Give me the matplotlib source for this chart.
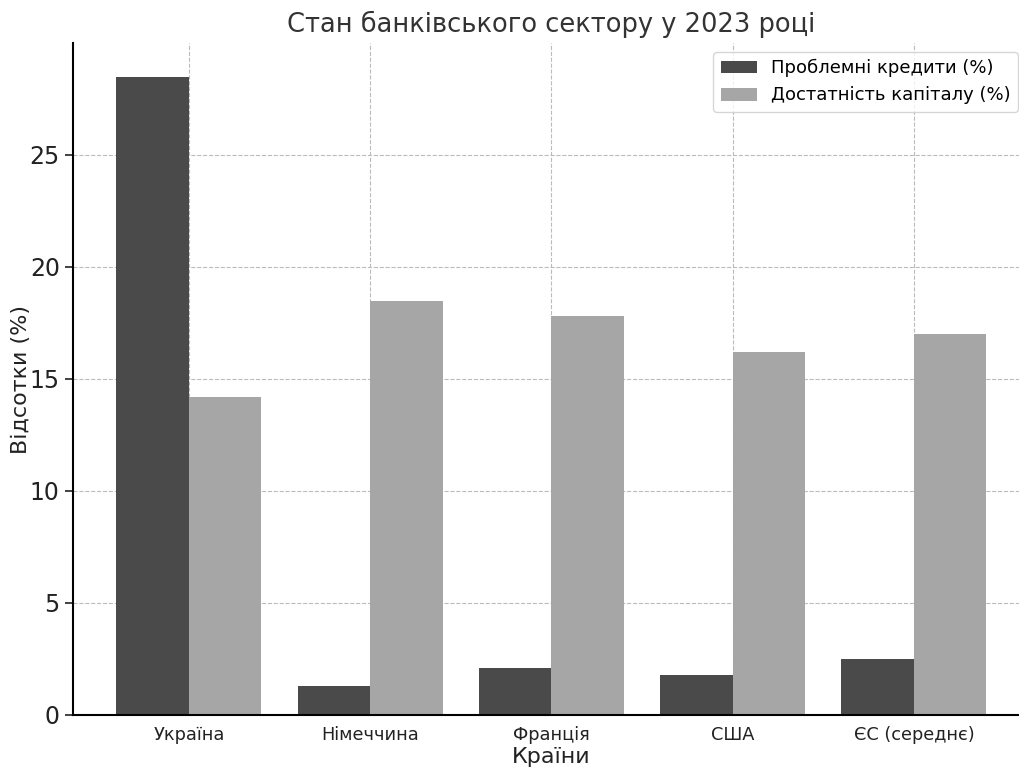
import matplotlib.pyplot as plt
import numpy as np

countries = ['Україна', 'Німеччина', 'Франція', 'США', 'ЄС (середнє)']
npl = [28.5, 1.3, 2.1, 1.8, 2.5]
capital = [14.2, 18.5, 17.8, 16.2, 17.0]

x = np.arange(len(countries))
w = 0.4

fig = plt.figure(figsize=(10.2, 7.67), dpi=100)
ax = fig.add_axes([73/1020, 1 - 715/767, 957/1020, 672/767])

ax.bar(x - w/2, npl, w, color='#4a4a4a', label='Проблемні кредити (%)')
ax.bar(x + w/2, capital, w, color='#a6a6a6', label='Достатність капіталу (%)')

ax.set_ylim(0, 30)
ax.set_xticks(x)
ax.set_xticklabels(countries, fontsize=12.8, color='#222222')
ax.set_yticks([0, 5, 10, 15, 20, 25])
ax.tick_params(axis='y', labelsize=17, length=6, width=1.2, colors='#222222')
ax.tick_params(axis='x', direction='in', length=3, width=1.2, pad=8)

ax.set_title('Стан банківського сектору у 2023 році', fontsize=18.5, color='#333333', pad=8)
ax.set_xlabel('Країни', fontsize=16, color='#222222', labelpad=2)
ax.set_ylabel('Відсотки (%)', fontsize=16, color='#222222', labelpad=-1)

ax.spines['top'].set_visible(False)
ax.spines['right'].set_visible(False)
ax.spines['left'].set_linewidth(1.5)
ax.spines['bottom'].set_linewidth(1.5)
ax.set_axisbelow(True)
ax.grid(True, linestyle='--', color='#bbbbbb', linewidth=0.8)

ax.legend(loc='upper right', bbox_to_anchor=(1018/1020, 1 - 52/767),
          bbox_transform=fig.transFigure, fontsize=13, frameon=True,
          edgecolor='#cccccc', fancybox=True, borderaxespad=0)

fig.savefig('out.png', dpi=100)
